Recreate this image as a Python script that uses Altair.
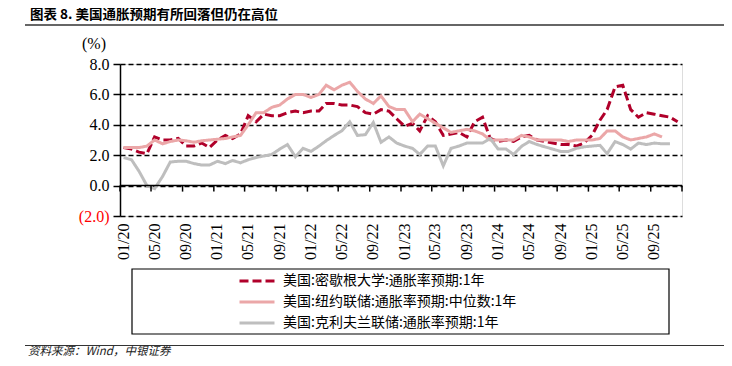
import altair as alt
import pandas as pd

# ---------------- data ----------------
months = [f"{y}-{m:02d}-15" for y in range(2020, 2026) for m in range(1, 13)]

series_names = [
    "美国:密歇根大学:通胀率预期:1年",
    "美国:纽约联储:通胀率预期:中位数:1年",
    "美国:克利夫兰联储:通胀率预期:1年",
]

michigan = [
    2.5, 2.4, 2.2, 2.1, 3.2, 3.0, 3.0, 3.1, 2.6, 2.6, 2.8, 2.5,
    3.0, 3.3, 3.1, 3.4, 4.6, 4.2, 4.7, 4.6, 4.6, 4.8, 4.9, 4.8,
    4.9, 4.9, 5.4, 5.4, 5.3, 5.3, 5.2, 4.8, 4.7, 5.0, 4.9, 4.4,
    3.9, 4.1, 3.6, 4.6, 4.2, 3.3, 3.4, 3.5, 3.2, 4.2, 4.5, 3.1,
    2.9, 3.0, 2.9, 3.2, 3.3, 3.0, 2.9, 2.8, 2.7, 2.7, 2.6, 2.8,
    3.3, 4.3, 5.0, 6.5, 6.6, 5.0, 4.5, 4.8, 4.7, 4.6, 4.5, 4.2,
]

nyfed = [
    2.5, 2.5, 2.5, 2.6, 3.0, 2.75, 2.9, 3.0, 2.95, 2.85, 2.95, 3.0,
    3.05, 3.1, 3.2, 3.3, 4.0, 4.8, 4.8, 5.15, 5.3, 5.7, 6.0, 6.0,
    5.8, 6.0, 6.6, 6.3, 6.6, 6.8, 6.2, 5.7, 5.4, 5.9, 5.2, 5.0,
    5.0, 4.2, 4.7, 4.4, 4.1, 3.8, 3.5, 3.6, 3.7, 3.6, 3.4, 3.0,
    3.0, 3.0, 3.0, 3.3, 3.2, 3.0, 3.0, 3.0, 3.0, 2.9, 3.0, 3.0,
    3.0, 3.1, 3.6, 3.6, 3.2, 3.0, 3.1, 3.2, 3.4, 3.2,
]

cleveland = [
    1.85, 1.7, 0.95, 0.0, -0.2, 0.6, 1.55, 1.6, 1.6, 1.45, 1.35, 1.35,
    1.6, 1.45, 1.65, 1.5, 1.7, 1.85, 1.95, 2.05, 2.4, 2.7, 1.9, 2.45,
    2.25, 2.6, 2.95, 3.3, 3.6, 4.2, 3.3, 3.35, 4.15, 2.85, 3.2, 2.8,
    2.6, 2.45, 2.05, 2.6, 2.6, 1.3, 2.45, 2.6, 2.8, 2.8, 2.8, 3.1,
    2.4, 2.4, 2.05, 2.58, 2.9, 2.7, 2.55, 2.4, 2.25, 2.25, 2.45, 2.55,
    2.6, 2.65, 2.1, 2.9, 2.7, 2.4, 2.8, 2.7, 2.8, 2.75, 2.75,
]

tick_dates = [
    "2020-01-01", "2020-05-01", "2020-09-01", "2021-01-01", "2021-05-01",
    "2021-09-01", "2022-01-01", "2022-05-01", "2022-09-01", "2023-01-01",
    "2023-05-01", "2023-09-01", "2024-01-01", "2024-05-01", "2024-09-01",
    "2025-01-01", "2025-05-01", "2025-09-01", "2026-01-01",
]
y_ticks = [-2, 0, 2, 4, 6, 8]
zero_level = [0]

title_text = "图表 8. 美国通胀预期有所回落但仍在高位"
unit_text = "(%)"
source_text = "资料来源：Wind，中银证券"

colors = ["#B0002A", "#EBA7A8", "#BEBEBE"]
dashes = [[9, 4], [1, 0], [1, 0]]

# ---------------- tables ----------------
rows = []
for name, vals in zip(series_names, [michigan, nyfed, cleveland]):
    for d, v in zip(months, vals):
        rows.append({"date": d, "value": v, "series": name})
df = pd.DataFrame(rows)

ticks_df = pd.DataFrame({"date": tick_dates, "value": zero_level * len(tick_dates)})
zero_df = pd.DataFrame({"value": zero_level})


def dt(s):
    y, m, d = (int(p) for p in s.split("-"))
    return alt.DateTime(year=y, month=m, date=d, utc=True)


x_scale = alt.Scale(type="utc", domain=[dt(tick_dates[0]), dt(tick_dates[-1])])
y_scale = alt.Scale(domain=[-2, 8], nice=False, zero=False)

x_axis = alt.Axis(
    title=None,
    values=[dt(s) for s in tick_dates],
    labelExpr="utcFormat(datum.value, '%Y') == '2026' ? '' : utcFormat(datum.value, '%m/%y')",
    labelAngle=270,
    labelAlign="right",
    labelBaseline="middle",
    labelPadding=7,
    labelOffset=3,
    labelFont="Liberation Serif",
    labelFontSize=16,
    labelColor="#000000",
    labelOverlap=False,
    labelFlush=False,
    labelBound=False,
    domain=False,
    ticks=False,
    grid=False,
)

y_axis = alt.Axis(
    title=None,
    values=y_ticks,
    labelExpr="datum.value < 0 ? '(' + format(-datum.value, '.1f') + ')' : format(datum.value, '.1f')",
    labelColor={"condition": {"test": "datum.value < 0", "value": "#FF0000"}, "value": "#000000"},
    labelFont="Liberation Serif",
    labelFontSize=16,
    labelPadding=4,
    labelOverlap=False,
    labelFlush=False,
    labelBound=False,
    tickSize=7,
    tickWidth=1.5,
    tickColor="#000000",
    domainColor="#000000",
    domainWidth=1.5,
    grid=True,
    gridColor="#000000",
    gridDash=[5, 3],
    gridWidth=1.3,
)

legend_kw = dict(
    title=None,
    orient="none",
    legendX=118,
    legendY=206.5,
    symbolType="stroke",
    symbolSize=1225,
    symbolStrokeWidth=3,
    clipHeight=21,
    labelFont="Noto Sans CJK SC",
    labelFontSize=14,
    labelColor="#000000",
    labelOffset=7,
    labelLimit=0,
    rowPadding=0,
    padding=0,
)

X = alt.X("date:T", scale=x_scale, axis=x_axis)
Y = alt.Y("value:Q", scale=y_scale, axis=y_axis)

lines = alt.Chart(df).mark_line(strokeWidth=3, strokeCap="butt").encode(
    x=X,
    y=Y,
    color=alt.Color(
        "series:N",
        scale=alt.Scale(domain=series_names, range=colors),
        legend=alt.Legend(**legend_kw),
        sort=series_names,
    ),
    strokeDash=alt.StrokeDash(
        "series:N",
        scale=alt.Scale(domain=series_names, range=dashes),
        legend=alt.Legend(**legend_kw),
        sort=series_names,
    ),
)

zero_line = alt.Chart(zero_df).mark_rule(color="#000000", strokeWidth=1.5).encode(y=Y)

zero_ticks = alt.Chart(ticks_df).mark_tick(
    orient="vertical", size=6, thickness=1.5, yOffset=3, color="#000000", opacity=1
).encode(x=X, y=Y)

legend_box = alt.Chart(pd.DataFrame({"k": [0]})).mark_rect(
    fill="#FFFFFF", fillOpacity=0, stroke="#000000", strokeWidth=1.2
).encode(x=alt.value(12), x2=alt.value(549), y=alt.value(205), y2=alt.value(270))

title_mark = alt.Chart(pd.DataFrame({"t": [title_text]})).mark_text(
    align="left", baseline="middle", font="Noto Sans CJK SC", fontSize=13.5,
    fontWeight="bold", color="#000000"
).encode(x=alt.value(-90), y=alt.value(-49), text="t:N")

title_rule = alt.Chart(pd.DataFrame({"k": [0]})).mark_rule(
    color="#333333", strokeWidth=1.5
).encode(x=alt.value(-95), x2=alt.value(604), y=alt.value(-39))

unit_mark = alt.Chart(pd.DataFrame({"t": [unit_text]})).mark_text(
    align="center", baseline="middle", font="Liberation Serif", fontSize=16, color="#000000"
).encode(x=alt.value(-26), y=alt.value(-20), text="t:N")

foot_rule = alt.Chart(pd.DataFrame({"k": [0]})).mark_rule(
    color="#333333", strokeWidth=1.2
).encode(x=alt.value(-95), x2=alt.value(604), y=alt.value(281.5))

foot_mark = alt.Chart(pd.DataFrame({"t": [source_text]})).mark_text(
    align="left", baseline="middle", font="Noto Sans CJK SC", fontSize=11.5,
    fontStyle="italic", color="#222222"
).encode(x=alt.value(-92), y=alt.value(287.5), text="t:N")

chart = alt.layer(
    legend_box, lines, zero_line, zero_ticks, title_mark, title_rule,
    unit_mark, foot_rule, foot_mark
).properties(
    width=562,
    height=152,
    padding={"left": 112, "top": 56, "right": 42, "bottom": 142},
    autosize=alt.AutoSizeParams(type="none"),
).configure_view(stroke=None).configure(background="#FFFFFF")

chart.save("out.html", embed_options={"renderer": "svg", "actions": False})
